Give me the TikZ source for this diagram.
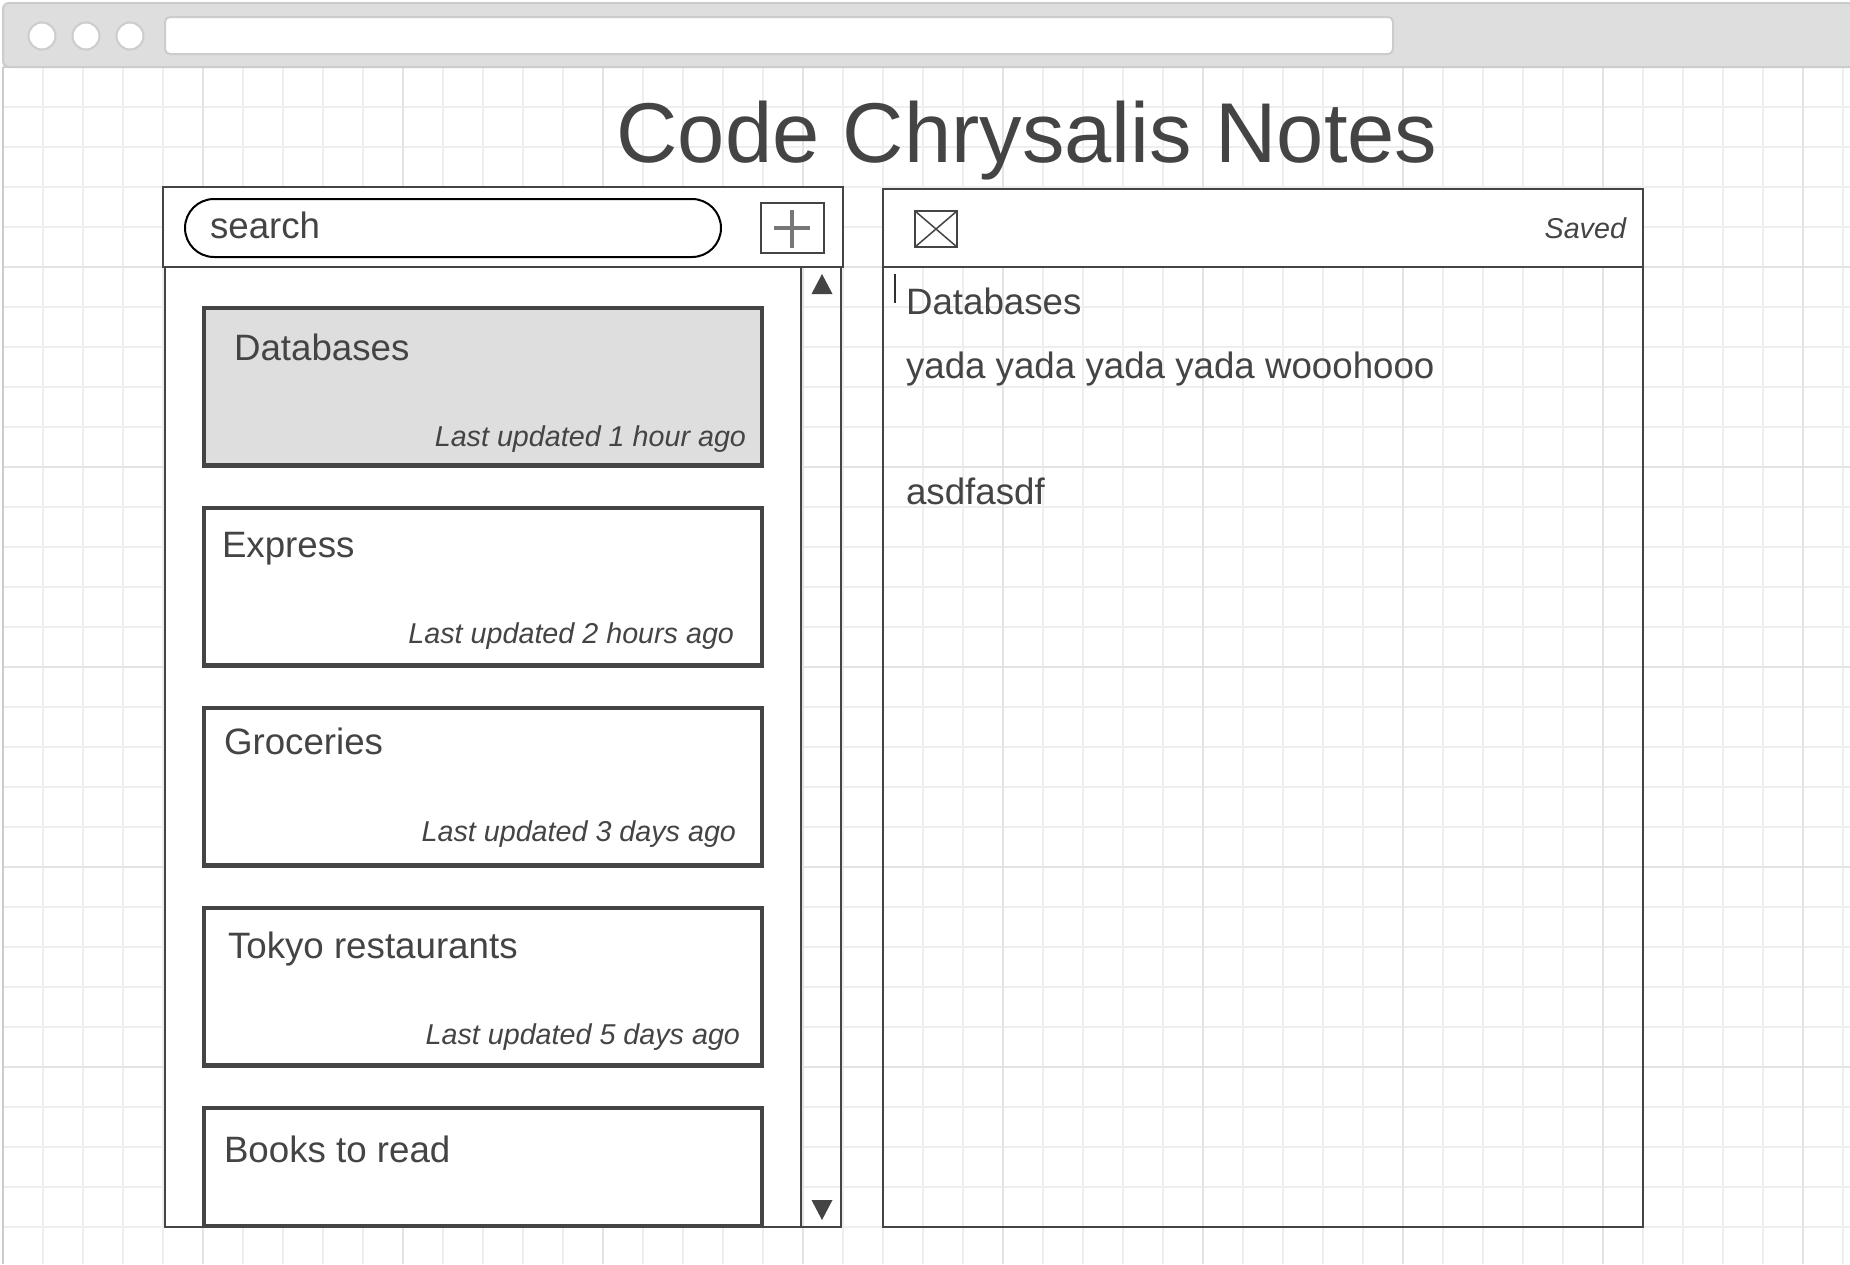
\documentclass[tikz,border=0pt]{standalone}
\usepackage{fontspec}
\setmainfont{Liberation Sans}
\definecolor{ink}{HTML}{444444}
\definecolor{chrome}{HTML}{DEDEDE}
\definecolor{chromeline}{HTML}{CCCCCC}
\definecolor{gridminor}{HTML}{EEEEEE}
\definecolor{gridmajor}{HTML}{E3E3E3}
\definecolor{plusline}{HTML}{777777}
\newcommand{\fs}[1]{\fontsize{#1}{#1}\selectfont}
\tikzset{
  x=1pt,y=-1pt,
  gridthin/.style={gridminor,line width=2pt},
  gridthick/.style={gridmajor,line width=2pt},
  panel/.style={draw=ink,line width=2pt,fill=white},
  frameline/.style={draw=ink,line width=2pt},
  card/.style={draw=ink,line width=4.5pt,fill=white},
  txt/.style={anchor=base west,inner sep=0pt,outer sep=0pt,text=ink,font=\fs{36.7}},
  stamp/.style={anchor=base east,inner sep=0pt,outer sep=0pt,text=ink,font=\fs{28.7}\itshape},
  dot/.style={draw=chromeline,line width=2pt,fill=white},
}
\begin{document}
\begin{tikzpicture}
\useasboundingbox (0,0) rectangle (1850,1264);
\fill[white] (0,0) rectangle (1850,1264);
% grid
\foreach \gx in {43,83,...,1843}{\draw[gridthin] (\gx,67) -- (\gx,1264);}
\foreach \gy in {107,147,...,1247}{\draw[gridthin] (3,\gy) -- (1850,\gy);}
\foreach \gx in {3,203,...,1803}{\draw[gridthick] (\gx,67) -- (\gx,1264);}
\foreach \gy in {267,467,...,1067}{\draw[gridthick] (3,\gy) -- (1850,\gy);}
% browser window
\draw[chromeline,line width=2pt] (3,67) -- (3,1264);
\draw[chromeline,line width=2pt,fill=chrome,rounded corners=6pt] (1852,67) -- (3,67) -- (3,3) -- (1852,3);
\draw[chromeline,line width=2pt] (3,67) -- (1850,67);
\draw[dot] (42,36) circle[radius=13.5];
\draw[dot] (86,36) circle[radius=13.5];
\draw[dot] (130,36) circle[radius=13.5];
\draw[dot,rounded corners=5pt] (165,17) rectangle (1393,54);
% title
\node[txt,font=\fs{84.9}] (title) at (616.5,162) {Code Chrysalis Notes};
% list panel
\draw[panel] (165,267) rectangle (801,1227);
\draw[frameline] (801,267) -- (801,1227) -- (841,1227) -- (841,267);
\fill[ink] (822,274) -- (832.5,294) -- (811.5,294) -- cycle;
\fill[ink] (811.5,1200) -- (832.5,1200) -- (822,1220) -- cycle;
% search header
\draw[panel] (163,187) rectangle (843,267);
\draw[black,line width=2pt,fill=white,rounded corners=29pt] (185,199) rectangle (721,257);
\node[txt] (search) at (210,238.5) {search};
\draw[panel] (761,203) rectangle (823.5,253);
\draw[plusline,line width=3.6pt] (774,228) -- (810,228);
\draw[plusline,line width=3.6pt] (792,210) -- (792,248);
% cards
\draw[card,fill=chrome] (204,308) rectangle (762,465.5);
\draw[card] (204,508) rectangle (762,665.5);
\draw[card] (204,708) rectangle (762,865.5);
\draw[card] (204,908) rectangle (762,1065.5);
\draw[card] (204,1108) rectangle (762,1226);
\node[txt] (c1) at (234,360) {Databases};
\node[txt] (c2) at (222,557) {Express};
\node[txt] (c3) at (224,754) {Groceries};
\node[txt] (c4) at (228,958) {Tokyo restaurants};
\node[txt] (c5) at (224,1162) {Books to read};
\node[stamp] (s1) at (746,446) {Last updated 1 hour ago};
\node[stamp] (s2) at (734,643) {Last updated 2 hours ago};
\node[stamp] (s3) at (736,841) {Last updated 3 days ago};
\node[stamp] (s4) at (740,1044) {Last updated 5 days ago};
% editor
\draw[frameline] (883,267) -- (883,1227) -- (1643,1227) -- (1643,267);
\draw[panel] (883,189) rectangle (1643,267);
\draw[ink,line width=2pt] (915,211) rectangle (957,247);
\draw[ink,line width=1.5pt] (915,211) -- (957,247) (957,211) -- (915,247);
\node[stamp] (saved) at (1626,238) {Saved};
\draw[ink!70!black,line width=2.4pt] (895,274) -- (895,303);
\node[txt] (e1) at (906,314) {Databases};
\node[txt] (e2) at (906,378) {yada yada yada yada wooohooo};
\node[txt] (e3) at (906,504) {asdfasdf};
\end{tikzpicture}
\end{document}
